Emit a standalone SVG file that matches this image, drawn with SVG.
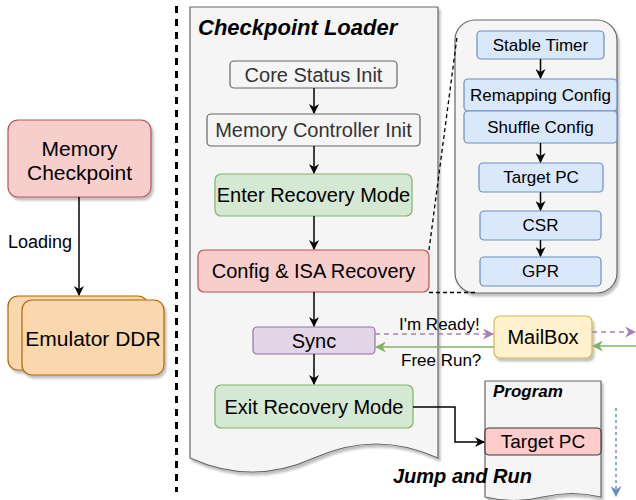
<svg xmlns="http://www.w3.org/2000/svg" width="636" height="500" viewBox="0 0 636 500">
  <defs>
    <filter id="shadow" x="-10%" y="-10%" width="130%" height="130%">
      <feDropShadow dx="2" dy="3" stdDeviation="1.2" flood-color="#000" flood-opacity="0.25"/>
    </filter>
    <marker id="arrow" viewBox="0 0 10 10" refX="9" refY="5" markerWidth="10" markerHeight="10" markerUnits="userSpaceOnUse" orient="auto">
      <path d="M0,0 L10,5 L0,10 L3,5 Z" fill="#000"/>
    </marker>
    <marker id="arrow-purple" viewBox="0 0 10 10" refX="9" refY="5" markerWidth="11" markerHeight="11" markerUnits="userSpaceOnUse" orient="auto">
      <path d="M0,0 L10,5 L0,10 L3,5 Z" fill="#a680b8"/>
    </marker>
    <marker id="arrow-green" viewBox="0 0 10 10" refX="9" refY="5" markerWidth="11" markerHeight="11" markerUnits="userSpaceOnUse" orient="auto">
      <path d="M0,0 L10,5 L0,10 L3,5 Z" fill="#82b366"/>
    </marker>
    <marker id="arrow-blue" viewBox="0 0 10 10" refX="9" refY="5" markerWidth="11" markerHeight="11" markerUnits="userSpaceOnUse" orient="auto">
      <path d="M0,0 L10,5 L0,10 L3,5 Z" fill="#6c8ebf"/>
    </marker>
  </defs>
  <style>
    text { font-family: "Liberation Sans", Arial, sans-serif; fill: #000; }
    .c { text-anchor: middle; dominant-baseline: central; }
    .grey { fill: #f5f5f5; stroke: #666666; stroke-width: 1.2; }
    .grey-t { fill: #333333; }
    .red { fill: #f8cecc; stroke: #b85450; stroke-width: 1.2; }
    .green { fill: #d5e8d4; stroke: #82b366; stroke-width: 1.2; }
    .purple { fill: #e1d5e7; stroke: #9673a6; stroke-width: 1.2; }
    .blue { fill: #dae8fc; stroke: #6c8ebf; stroke-width: 1.2; }
    .orange { fill: #fad7ac; stroke: #b46504; stroke-width: 1.2; }
    .yellow { fill: #fff2cc; stroke: #d6b656; stroke-width: 1.2; }
    .pink { fill: #ffcccc; stroke: #36393d; stroke-width: 1.2; }
    .edge { fill: none; stroke: #000; stroke-width: 1.5; }
    .title { font-weight: bold; font-style: italic; }
  </style>

  <!-- separator between memory side and loader side -->
  <line x1="176.5" y1="6" x2="176.5" y2="492" stroke="#000" stroke-width="3" stroke-dasharray="7 6"/>

  <!-- left side: checkpoint memory -->
  <g id="memory-checkpoint">
    <rect x="8" y="120" width="143" height="77" rx="10" class="red" filter="url(#shadow)"/>
    <text x="79.5" y="148" class="c" font-size="21">Memory</text>
    <text x="79.5" y="172" class="c" font-size="21">Checkpoint</text>
  </g>

  <g id="emulator-ddr">
    <rect x="8" y="296" width="140" height="74" rx="10" class="orange" filter="url(#shadow)"/>
    <rect x="22" y="300" width="142" height="75" rx="10" class="orange" filter="url(#shadow)"/>
    <text x="93" y="338" class="c" font-size="21">Emulator DDR</text>
  </g>

  <!-- loader document shape -->
  <g id="checkpoint-loader">
    <path d="M190,7 H438 V458 Q376,430 314,458 Q252,486 190,458 Z" class="grey" filter="url(#shadow)"/>
    <text x="198" y="35" class="title" font-size="22">Checkpoint Loader</text>
  </g>

  <g id="core-status-init">
    <rect x="230" y="61" width="167" height="27" rx="4" class="grey"/>
    <text x="313.5" y="74.5" class="c grey-t" font-size="20">Core Status Init</text>
  </g>

  <g id="memory-controller-init">
    <rect x="207" y="114" width="213" height="32" rx="4" class="grey"/>
    <text x="313.5" y="130" class="c grey-t" font-size="20">Memory Controller Init</text>
  </g>

  <g id="enter-recovery-mode">
    <rect x="215" y="174" width="197" height="42" rx="6" class="green"/>
    <text x="313.5" y="195" class="c" font-size="20">Enter Recovery Mode</text>
  </g>

  <g id="config-isa-recovery">
    <rect x="198" y="250" width="231" height="42" rx="6" class="red"/>
    <text x="313.5" y="271" class="c" font-size="20">Config &amp; ISA Recovery</text>
  </g>

  <g id="sync">
    <rect x="253" y="327" width="122" height="27" rx="4" class="purple"/>
    <text x="314" y="340.5" class="c" font-size="20">Sync</text>
  </g>

  <g id="exit-recovery-mode">
    <rect x="215" y="385" width="198" height="43" rx="6" class="green"/>
    <text x="314" y="406.5" class="c" font-size="20">Exit Recovery Mode</text>
  </g>

  <!-- recovery detail panel -->
  <g id="recovery-detail">
    <rect x="455" y="20" width="162" height="273" rx="20" class="grey" filter="url(#shadow)"/>
  </g>

  <g id="stable-timer">
    <rect x="477" y="31" width="127" height="28" rx="4" class="blue"/>
    <text x="540.5" y="45" class="c" font-size="17">Stable Timer</text>
  </g>

  <g id="remapping-config">
    <rect x="464" y="79" width="153" height="32" rx="4" class="blue"/>
    <text x="540.5" y="95" class="c" font-size="17">Remapping Config</text>
  </g>

  <g id="shuffle-config">
    <rect x="464" y="111" width="153" height="32" rx="4" class="blue"/>
    <text x="540.5" y="127" class="c" font-size="17">Shuffle Config</text>
  </g>

  <g id="target-pc-config">
    <rect x="479" y="163" width="124" height="29" rx="4" class="blue"/>
    <text x="541" y="177.5" class="c" font-size="17">Target PC</text>
  </g>

  <g id="csr">
    <rect x="480" y="211" width="121" height="29" rx="4" class="blue"/>
    <text x="540.5" y="225.5" class="c" font-size="17">CSR</text>
  </g>

  <g id="gpr">
    <rect x="480" y="257" width="121" height="29" rx="4" class="blue"/>
    <text x="540.5" y="271.5" class="c" font-size="17">GPR</text>
  </g>

  <g id="mailbox">
    <rect x="494" y="316" width="98" height="42" rx="6" class="yellow" filter="url(#shadow)"/>
    <text x="543" y="337" class="c" font-size="20">MailBox</text>
  </g>

  <!-- target program document -->
  <g id="program">
    <path d="M485,381 H601 V497 Q572,490 543,497 Q514,504 485,497 Z" class="grey" filter="url(#shadow)"/>
    <text x="493" y="397" class="title" font-size="17">Program</text>
  </g>

  <g id="target-pc">
    <rect x="485" y="428" width="116" height="27" rx="4" class="pink"/>
    <text x="543" y="441.5" class="c" font-size="19">Target PC</text>
  </g>

  <g id="connectors">
    <!-- checkpoint loading -->
    <line x1="79" y1="197" x2="79" y2="295" class="edge" marker-end="url(#arrow)"/>
    <text x="8" y="248" font-size="18">Loading</text>

    <!-- loader flow -->
    <line x1="314" y1="88" x2="314" y2="113" class="edge" marker-end="url(#arrow)"/>
    <line x1="314" y1="146" x2="314" y2="173" class="edge" marker-end="url(#arrow)"/>
    <line x1="314" y1="216" x2="314" y2="249" class="edge" marker-end="url(#arrow)"/>
    <line x1="314" y1="292" x2="314" y2="326" class="edge" marker-end="url(#arrow)"/>
    <line x1="314" y1="354" x2="314" y2="384" class="edge" marker-end="url(#arrow)"/>

    <!-- detail panel flow -->
    <line x1="540.5" y1="59" x2="540.5" y2="78" class="edge" marker-end="url(#arrow)"/>
    <line x1="540.5" y1="143" x2="540.5" y2="162" class="edge" marker-end="url(#arrow)"/>
    <line x1="540.5" y1="192" x2="540.5" y2="210" class="edge" marker-end="url(#arrow)"/>
    <line x1="540.5" y1="240" x2="540.5" y2="256" class="edge" marker-end="url(#arrow)"/>

    <!-- zoom guides from Config & ISA Recovery to the panel -->
    <line x1="429" y1="250" x2="457" y2="37" stroke="#000" stroke-width="1.3" stroke-dasharray="4 3"/>
    <line x1="429" y1="292.5" x2="478" y2="292.5" stroke="#000" stroke-width="1.3" stroke-dasharray="4 3"/>

    <!-- handshake with the mailbox -->
    <line x1="375" y1="334" x2="493" y2="334" fill="none" stroke="#a680b8" stroke-width="1.5" stroke-dasharray="5 4" marker-end="url(#arrow-purple)"/>
    <line x1="494" y1="347" x2="376" y2="347" fill="none" stroke="#82b366" stroke-width="1.5" marker-end="url(#arrow-green)"/>
    <text x="399" y="330" font-size="17">I'm Ready!</text>
    <text x="401" y="366" font-size="17">Free Run?</text>
    <line x1="592" y1="332" x2="635" y2="332" fill="none" stroke="#a680b8" stroke-width="1.5" stroke-dasharray="5 4" marker-end="url(#arrow-purple)"/>
    <line x1="636" y1="346" x2="593" y2="346" fill="none" stroke="#82b366" stroke-width="1.5" marker-end="url(#arrow-green)"/>

    <!-- jump to the program -->
    <path d="M413,407 H455 V442 H484" class="edge" marker-end="url(#arrow)"/>
    <text x="393" y="483" class="title" font-size="20">Jump and Run</text>

    <!-- program execution direction -->
    <line x1="616" y1="408" x2="616" y2="496" fill="none" stroke="#6c8ebf" stroke-width="1.5" stroke-dasharray="3 3" marker-end="url(#arrow-blue)"/>
  </g>
</svg>
